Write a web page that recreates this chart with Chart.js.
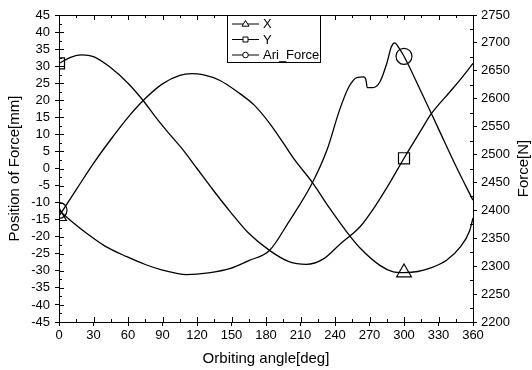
<!DOCTYPE html>
<html>
<head>
<meta charset="utf-8">
<script src="https://cdn.jsdelivr.net/npm/chart.js@4.4.1/dist/chart.umd.min.js"></script>
<style>
    html, body { margin: 0; padding: 0; background: #fff; }
    #caja { width: 532px; height: 370px; }
</style>
</head>
<body>
<div id="caja"><canvas id="graficoFuerza" width="532" height="370"></canvas></div>
<script>
// Valores (angulo de orbita en grados)
const anguloX = [0, 15, 30, 45, 60, 75, 90, 105, 115, 125, 140, 155, 170, 183, 195, 205, 221, 235, 250, 262, 279, 290, 300, 312, 322, 337, 349, 357, 360];
const posX    = [-14, -6.2, 1.5, 8.5, 15, 20.5, 24.8, 27.3, 27.8, 27.5, 25.8, 22.5, 18.5, 13.3, 7.5, 2.5, -4.4, -11.5, -18.5, -23.4, -28.4, -30.2, -30.5, -30.2, -29.3, -26.9, -23, -18.3, -14.5];

const anguloY = [0, 10, 20, 30, 44, 60, 73, 83, 95, 108, 120, 134, 149, 165, 183, 200, 215, 230, 245, 254, 262, 275, 288, 300, 315, 323, 340, 350, 360];
const posY    = [30.8, 32.6, 33.3, 32.8, 29.8, 25, 20, 15.5, 10.5, 5.4, 0, -6.3, -12.7, -19, -24, -27.3, -28.1, -26.5, -22, -19.5, -17, -11, -4, 3, 11.3, 15.7, 22.5, 26.5, 30.8];

const anguloF = [0, 10, 24, 40, 59, 75, 90, 111, 130, 149, 165, 183, 200, 220, 233, 244, 252, 259, 265, 267, 268, 273, 279, 285, 289, 292, 295, 300, 315, 330, 345, 360];
const fuerza  = [2400, 2382, 2359, 2336, 2317, 2303, 2293, 2285, 2288, 2296, 2310, 2328, 2380, 2448, 2508, 2580, 2621, 2638, 2639, 2633, 2620, 2620, 2630, 2663, 2693, 2700, 2693, 2676, 2612, 2546, 2480, 2418];

// ejes: limites y paso de las marcas
const ejeAngulo = [0, 360, 30];
const ejePos    = [-45, 45, 5];
const ejeFuerza = [2200, 2750, 50];
const marcas    = [0, 300]; // angulos donde van los simbolos

const serie = (ang, val) => ang.map((a, i) => ({ x: a, y: val[i] }));
const fuente = 'Arial, "Liberation Sans", Helvetica, sans-serif';

// marcas interiores, borde superior, titulo derecho y leyenda
const marcoEjes = {
    id: 'marcoEjes',
    afterDraw(chart) {
        const { ctx, chartArea: a, scales } = chart;
        const sx = scales.x, sy = scales.y, sf = scales.yF;
        ctx.save();
        ctx.strokeStyle = '#000';
        ctx.lineWidth = 1;
        ctx.beginPath();
        ctx.moveTo(a.left, a.top + 0.5);
        ctx.lineTo(a.right, a.top + 0.5);
        for (let v = ejeAngulo[0]; v <= ejeAngulo[1]; v += ejeAngulo[2] / 2) {
            const px = Math.round(sx.getPixelForValue(v)) + 0.5;
            const l = v % ejeAngulo[2] === 0 ? 5 : 3;
            ctx.moveTo(px, a.bottom); ctx.lineTo(px, a.bottom - l);
            ctx.moveTo(px, a.top); ctx.lineTo(px, a.top + l);
        }
        for (let v = ejePos[0]; v <= ejePos[1]; v += ejePos[2] / 2) {
            const py = Math.round(sy.getPixelForValue(v)) + 0.5;
            const l = v % ejePos[2] === 0 ? 5 : 3;
            ctx.moveTo(a.left, py); ctx.lineTo(a.left + l, py);
        }
        for (let v = ejeFuerza[0]; v <= ejeFuerza[1]; v += ejeFuerza[2] / 2) {
            if (v % ejeFuerza[2] === 0) continue;
            const py = Math.round(sf.getPixelForValue(v)) + 0.5;
            ctx.moveTo(a.right, py); ctx.lineTo(a.right - 3, py);
        }
        ctx.stroke();

        // titulo del eje derecho (se lee de abajo hacia arriba)
        ctx.save();
        ctx.translate(524, (a.top + a.bottom) / 2);
        ctx.rotate(-Math.PI / 2);
        ctx.fillStyle = '#000';
        ctx.font = '15px ' + fuente;
        ctx.textAlign = 'center';
        ctx.textBaseline = 'middle';
        ctx.fillText('Force[N]', 0, 0);
        ctx.restore();

        // leyenda
        const lx = a.left + 168, ly = a.top, lw = 93, lh = 47;
        ctx.fillStyle = '#fff';
        ctx.fillRect(lx, ly, lw, lh);
        ctx.strokeRect(lx + 0.5, ly + 0.5, lw, lh);
        ctx.font = '13px ' + fuente;
        ctx.textAlign = 'left';
        ctx.textBaseline = 'middle';
        chart.data.datasets.forEach((ds, i) => {
            const y = ly + 9 + i * 15.5;
            const cx = lx + 18.5;
            ctx.beginPath();
            ctx.moveTo(lx + 5, y); ctx.lineTo(lx + 32, y);
            ctx.stroke();
            ctx.beginPath();
            if (ds.pointStyle === 'triangle') {
                ctx.moveTo(cx, y - 3.5); ctx.lineTo(cx + 3.5, y + 2.2); ctx.lineTo(cx - 3.5, y + 2.2); ctx.closePath();
            } else if (ds.pointStyle === 'rect') {
                ctx.rect(cx - 2.5, y - 2.5, 5, 5);
            } else {
                ctx.arc(cx, y, 2.8, 0, Math.PI * 2);
            }
            ctx.fillStyle = '#fff';
            ctx.fill();
            ctx.stroke();
            ctx.fillStyle = '#000';
            ctx.fillText(ds.label, lx + 36, y + 0.5);
        });
        ctx.restore();
    }
};

const radioMarca = r => c => (c.raw && marcas.includes(c.raw.x) ? r : 0);
const sinComas = v => String(v); // sin separador de miles

const baseDataset = {
    borderColor: '#000',
    borderWidth: 1.3,
    pointBorderColor: '#000',
    pointBackgroundColor: 'rgba(0,0,0,0)',
    pointBorderWidth: 1.2,
    cubicInterpolationMode: 'monotone',
    fill: false
};

const ctx = document.getElementById('graficoFuerza').getContext('2d');
new Chart(ctx, {
    type: 'line',
    data: {
        datasets: [
            { ...baseDataset, label: 'X', data: serie(anguloX, posX), yAxisID: 'y', pointStyle: 'triangle', pointRadius: radioMarca(8.5) },
            { ...baseDataset, label: 'Y', data: serie(anguloY, posY), yAxisID: 'y', pointStyle: 'rect', pointRadius: radioMarca(7.8) },
            { ...baseDataset, label: 'Ari_Force', data: serie(anguloF, fuerza), yAxisID: 'yF', pointStyle: 'circle', pointRadius: radioMarca(8) }
        ]
    },
    options: {
        responsive: false,
        animation: false,
        events: [],
        layout: { padding: { top: 15, left: 0, right: 0, bottom: 0 } },
        plugins: {
            legend: { display: false },
            tooltip: { enabled: false }
        },
        scales: {
            x: {
                type: 'linear',
                position: 'bottom',
                min: ejeAngulo[0], max: ejeAngulo[1],
                ticks: { stepSize: ejeAngulo[2], color: '#000', font: { family: fuente, size: 13 }, padding: 2, maxRotation: 0, callback: sinComas },
                grid: { drawOnChartArea: false, drawTicks: true, tickLength: 4, color: '#000' },
                border: { color: '#000' },
                title: { display: true, text: 'Orbiting angle[deg]', color: '#000', font: { family: fuente, size: 15 }, padding: { top: 0, bottom: 2 } },
                afterFit: s => { s.height = 48; }
            },
            y: {
                position: 'left',
                min: ejePos[0], max: ejePos[1],
                ticks: { stepSize: ejePos[2], autoSkip: false, color: '#000', font: { family: fuente, size: 13 }, padding: 5, callback: sinComas },
                grid: { drawOnChartArea: false, drawTicks: true, tickLength: 4, color: '#000' },
                border: { color: '#000' },
                title: { display: true, text: 'Position of Force[mm]', color: '#000', font: { family: fuente, size: 15 }, padding: { top: 6, bottom: 0 } },
                afterFit: s => { s.width = 59; }
            },
            yF: {
                position: 'right',
                min: ejeFuerza[0], max: ejeFuerza[1],
                ticks: { stepSize: ejeFuerza[2], autoSkip: false, color: '#000', font: { family: fuente, size: 13 }, padding: 4, callback: sinComas },
                grid: { drawOnChartArea: false, drawTicks: true, tickLength: 4, color: '#000' },
                border: { color: '#000' },
                afterFit: s => { s.width = 59; }
            }
        }
    },
    plugins: [marcoEjes]
});
</script>
</body>
</html>
